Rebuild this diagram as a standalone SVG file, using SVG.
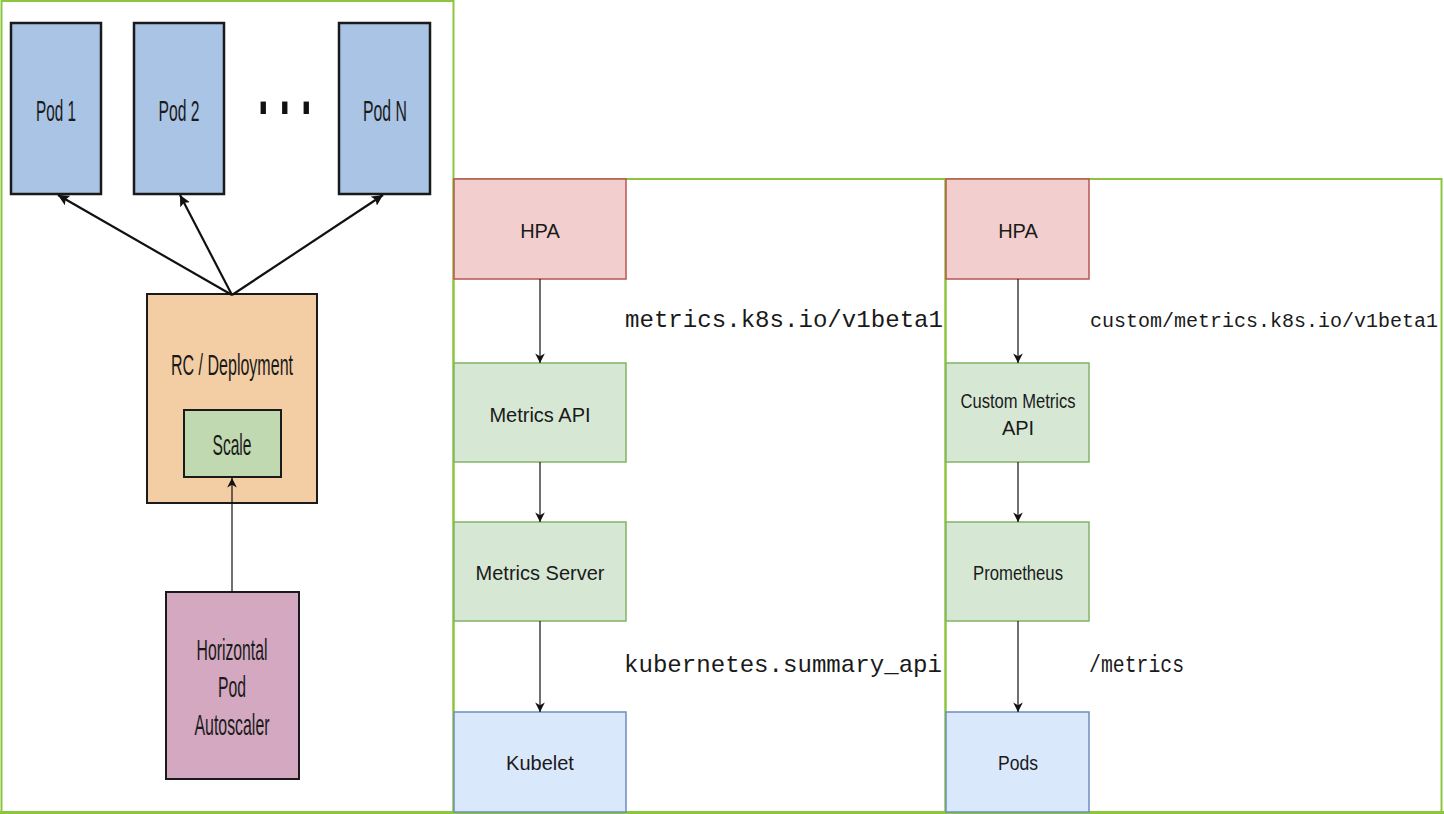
<svg xmlns="http://www.w3.org/2000/svg" width="1444" height="814" viewBox="0 0 1444 814">
<style>
.panel{fill:none;stroke:#8cc63e;stroke-width:2}
.pod{fill:#a9c4e4;stroke:#1a1a1a;stroke-width:2.5}
.lt{font-family:"Liberation Sans",Arial,sans-serif;font-size:30px;fill:#1a1a1a;text-anchor:middle}
.rt{font-family:"Liberation Sans",Arial,sans-serif;font-size:20px;fill:#1a1a1a;text-anchor:middle}
.mono{font-family:"Liberation Mono","Courier New",monospace;font-size:24px;fill:#1a1a1a}
.red{fill:#f2cfce;stroke:#b85450;stroke-width:1.5}
.grn{fill:#d6e8d4;stroke:#82b366;stroke-width:1.5}
.blu{fill:#dae8fc;stroke:#6c8ebf;stroke-width:1.5}
.thick{stroke:#111;stroke-width:2.2;fill:none}
.thin{stroke:#111;stroke-width:1.2;fill:none}
</style>
<defs>
<marker id="ah" viewBox="0 0 10 10" refX="10" refY="5" markerWidth="5" markerHeight="5" orient="auto" markerUnits="strokeWidth">
<path d="M0,0 L10,5 L0,10 L2,5 Z" fill="#111"/>
</marker>
<marker id="ah2" viewBox="0 0 10 10" refX="10" refY="5" markerWidth="8" markerHeight="8" orient="auto" markerUnits="strokeWidth">
<path d="M0,0 L10,5 L0,10 L3,5 Z" fill="#111"/>
</marker>
</defs>
<rect width="1444" height="814" fill="#ffffff"/>
<g id="panels">
<rect class="panel" x="1.5" y="1" width="452" height="811"/>
<rect class="panel" x="453.5" y="179" width="492" height="633"/>
<rect class="panel" x="945.5" y="179" width="496" height="633"/>
<line x1="0" y1="812.5" x2="1444" y2="812.5" stroke="#8cc63e" stroke-width="3"/>
</g>
<g id="pod1">
<rect class="pod" x="11" y="23" width="90" height="171"/>
<text class="lt" x="56" y="121" textLength="40" lengthAdjust="spacingAndGlyphs">Pod 1</text>
</g>
<g id="pod2">
<rect class="pod" x="134" y="23" width="90" height="171"/>
<text class="lt" x="179" y="121" textLength="41" lengthAdjust="spacingAndGlyphs">Pod 2</text>
</g>
<g id="ellipsis">
<text transform="translate(258,114) scale(1,2.2)" font-family="Liberation Sans,Arial,sans-serif" font-size="38" font-weight="bold" letter-spacing="11" fill="#111">...</text>
</g>
<g id="podN">
<rect class="pod" x="339" y="23" width="91" height="171"/>
<text class="lt" x="385" y="121" textLength="44" lengthAdjust="spacingAndGlyphs">Pod N</text>
</g>
<g id="rc">
<rect x="147" y="294" width="170" height="209" fill="#f3cda4" stroke="#1a1a1a" stroke-width="2"/>
<text class="lt" x="232" y="375" textLength="122" lengthAdjust="spacingAndGlyphs">RC / Deployment</text>
</g>
<g id="scale">
<rect x="184" y="410" width="97" height="67" fill="#c1d9b0" stroke="#1a1a1a" stroke-width="2"/>
<text class="lt" x="232" y="455" textLength="39" lengthAdjust="spacingAndGlyphs">Scale</text>
</g>
<g id="hpa-left">
<rect x="166" y="592" width="133" height="187" fill="#d3a8c0" stroke="#1a1a1a" stroke-width="2"/>
<text class="lt" x="232" y="660" textLength="71" lengthAdjust="spacingAndGlyphs">Horizontal</text>
<text class="lt" x="232" y="697" textLength="28" lengthAdjust="spacingAndGlyphs">Pod</text>
<text class="lt" x="232" y="735" textLength="75" lengthAdjust="spacingAndGlyphs">Autoscaler</text>
</g>
<g id="hpa1">
<rect class="red" x="454" y="179" width="172" height="100"/>
<text class="rt" x="540" y="238">HPA</text>
</g>
<g id="metrics-api">
<rect class="grn" x="454" y="363" width="172" height="99"/>
<text class="rt" x="540" y="422">Metrics API</text>
</g>
<g id="metrics-server">
<rect class="grn" x="454" y="522" width="172" height="99"/>
<text class="rt" x="540" y="580">Metrics Server</text>
</g>
<g id="kubelet">
<rect class="blu" x="454" y="712" width="172" height="100"/>
<text class="rt" x="540" y="770">Kubelet</text>
</g>
<g id="hpa2">
<rect class="red" x="946" y="179" width="143" height="100"/>
<text class="rt" x="1018" y="238">HPA</text>
</g>
<g id="custom-metrics-api">
<rect class="grn" x="946" y="363" width="143" height="99"/>
<text class="rt" x="1018" y="408" textLength="115" lengthAdjust="spacingAndGlyphs">Custom Metrics</text>
<text class="rt" x="1018" y="435">API</text>
</g>
<g id="prometheus">
<rect class="grn" x="946" y="522" width="143" height="99"/>
<text class="rt" x="1018" y="580" textLength="90" lengthAdjust="spacingAndGlyphs">Prometheus</text>
</g>
<g id="pods">
<rect class="blu" x="946" y="712" width="143" height="100"/>
<text class="rt" x="1018" y="770" textLength="40" lengthAdjust="spacingAndGlyphs">Pods</text>
</g>
<g id="connectors">
<line class="thick" x1="232" y1="295" x2="58" y2="195" marker-end="url(#ah)"/>
<line class="thick" x1="232" y1="295" x2="180" y2="195" marker-end="url(#ah)"/>
<line class="thick" x1="232" y1="295" x2="383" y2="195" marker-end="url(#ah)"/>
<line class="thin" x1="232" y1="592" x2="232" y2="478" marker-end="url(#ah2)"/>
<line class="thin" x1="540" y1="279" x2="540" y2="363" marker-end="url(#ah2)"/>
<line class="thin" x1="540" y1="462" x2="540" y2="522" marker-end="url(#ah2)"/>
<line class="thin" x1="540" y1="621" x2="540" y2="712" marker-end="url(#ah2)"/>
<line class="thin" x1="1018" y1="279" x2="1018" y2="363" marker-end="url(#ah2)"/>
<line class="thin" x1="1018" y1="462" x2="1018" y2="522" marker-end="url(#ah2)"/>
<line class="thin" x1="1018" y1="621" x2="1018" y2="712" marker-end="url(#ah2)"/>
</g>
<g id="labels">
<text class="mono" x="625" y="327" textLength="318" lengthAdjust="spacingAndGlyphs">metrics.k8s.io/v1beta1</text>
<text class="mono" x="1090" y="327" style="font-size:20px">custom/metrics.k8s.io/v1beta1</text>
<text class="mono" x="624" y="672" textLength="318" lengthAdjust="spacingAndGlyphs">kubernetes.summary_api</text>
<text class="mono" x="1089" y="672" textLength="95" lengthAdjust="spacingAndGlyphs">/metrics</text>
</g>
</svg>
